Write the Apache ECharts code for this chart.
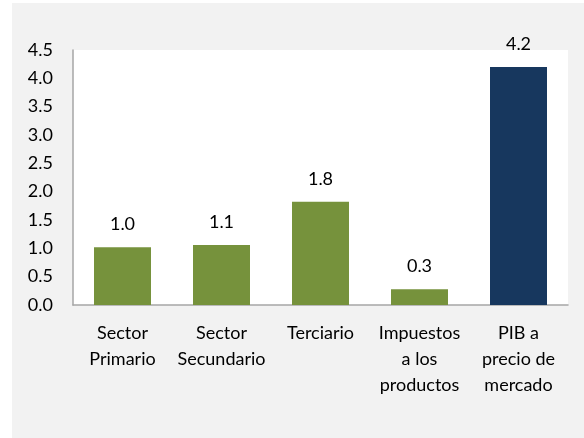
<!DOCTYPE html>
<html>
<head>
<meta charset="utf-8">
<script src="https://cdn.jsdelivr.net/npm/echarts@6/dist/echarts.min.js"></script>
<style>
  html, body { margin: 0; padding: 0; background: #fff; }
  #chart { width: 584px; height: 438px; }
</style>
</head>
<body>
<div id="chart"></div>
<script>
  var categories = ['Sector\nPrimario', 'Sector\nSecundario', 'Terciario', 'Impuestos\na los\nproductos', 'PIB a\nprecio de\nmercado'];
  var values = [1.02, 1.06, 1.82, 0.28, 4.2];
  var barColors = ['#76923c', '#76923c', '#76923c', '#76923c', '#17375e'];

  var font = 'Lato, "Open Sans", sans-serif';
  var chart = echarts.init(document.getElementById('chart'));
  chart.setOption({
    animation: false,
    graphic: [{
      type: 'rect',
      z: -10,
      shape: { x: 12, y: 3, width: 572, height: 435 },
      style: { fill: '#f2f2f2' }
    }],
    grid: {
      left: 73, right: 16, top: 50, bottom: 133,
      show: true, backgroundColor: '#fff', borderWidth: 0
    },
    xAxis: {
      type: 'category',
      data: categories,
      axisLine: { lineStyle: { color: '#a6a6a6', width: 1.5 } },
      axisTick: { show: false },
      axisLabel: {
        color: '#000', fontFamily: font, fontSize: 18, lineHeight: 26,
        margin: 15, interval: 0
      }
    },
    yAxis: {
      type: 'value',
      min: 0, max: 4.5, interval: 0.5,
      axisLine: { show: true, lineStyle: { color: '#a6a6a6', width: 1.5 } },
      axisTick: { show: false },
      splitLine: { show: false },
      axisLabel: {
        color: '#000', fontFamily: font, fontSize: 18, margin: 20,
        formatter: function (v) { return v.toFixed(1); }
      }
    },
    series: [{
      type: 'bar',
      barWidth: 57,
      data: values.map(function (v, i) {
        return { value: v, itemStyle: { color: barColors[i] } };
      }),
      label: {
        show: true, position: 'top', distance: 14,
        color: '#000', fontFamily: font, fontSize: 18,
        formatter: function (p) { return p.value.toFixed(1); }
      }
    }]
  });
</script>
</body>
</html>
